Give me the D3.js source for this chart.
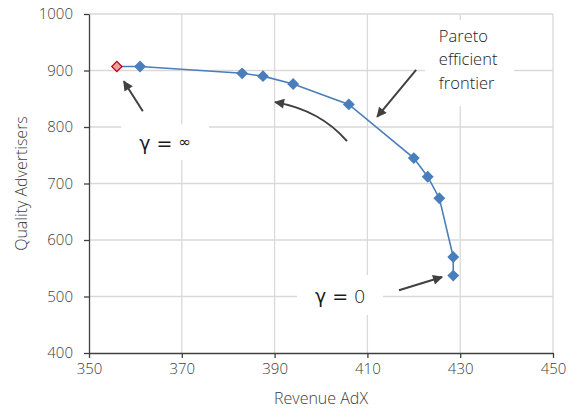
<!DOCTYPE html>
<html>
<head>
<meta charset="utf-8">
<script src="https://cdn.jsdelivr.net/npm/d3@7"></script>
<style>
  body { margin: 0; background: #fff; }
  svg { font-family: "Open Sans", sans-serif; font-weight: 300; }
</style>
</head>
<body>
<div id="chart-area"></div>
<script>
// frontier points, first one is gamma = infinity
let revenue = [356, 361, 383, 387.5, 394, 406, 420, 423, 425.5, 428.5, 428.5];
let quality = [907, 907, 895, 890, 876, 840, 745, 712, 674, 570, 537];
let xTicks = [350, 370, 390, 410, 430, 450];
let yTicks = [400, 500, 600, 700, 800, 900, 1000];

// annotation texts and arrows in data units
let labelRhs = ['∞', '0'];
let labelX = [366.4, 404.1];
let labelY = [759, 488.5];
let paretoLines = ['Pareto', 'efficient', 'frontier'];
let arrows = [
  { from: [361.6, 828], to: [357.5, 881] },
  { from: [405.6, 775], ctrl: [399.8, 830], to: [390.1, 844] },
  { from: [420.5, 901], to: [412.1, 818] },
  { from: [416.8, 511], to: [426.1, 534.5] },
];

let width = 574;
let height = 415;
let padding = { left: 89, top: 14, right: 21, bottom: 62 };

let chart = d3
  .select('#chart-area')
  .append('svg')
  .attr('width', width)
  .attr('height', height);

let x = d3.scaleLinear().domain([350, 450]).range([padding.left, width - padding.right]);
let y = d3.scaleLinear().domain([400, 1000]).range([height - padding.bottom, padding.top]);

//grid
chart
  .append('g')
  .selectAll('line')
  .data(xTicks.slice(1))
  .enter()
  .append('line')
  .attr('x1', (d) => x(d))
  .attr('x2', (d) => x(d))
  .attr('y1', y(1000))
  .attr('y2', y(400))
  .attr('stroke', '#d9d9d9')
  .attr('stroke-width', 1.3);
chart
  .append('g')
  .selectAll('line')
  .data(yTicks.slice(1))
  .enter()
  .append('line')
  .attr('x1', x(350))
  .attr('x2', x(450))
  .attr('y1', (d) => y(d))
  .attr('y2', (d) => y(d))
  .attr('stroke', '#d9d9d9')
  .attr('stroke-width', 1.3);

//axes
let xAxis = chart
  .append('g')
  .attr('transform', `translate(0,${y(400)})`)
  .call(d3.axisBottom(x).tickValues(xTicks).tickFormat(d3.format('d')).tickSize(5).tickSizeOuter(0).tickPadding(5));
let yAxis = chart
  .append('g')
  .attr('transform', `translate(${x(350)},0)`)
  .call(d3.axisLeft(y).tickValues(yTicks).tickFormat(d3.format('d')).tickSize(5).tickSizeOuter(0).tickPadding(11));
[xAxis, yAxis].forEach((a) => {
  a.select('.domain').attr('stroke', '#404040').attr('stroke-width', 1.3);
  a.selectAll('.tick line').attr('stroke', '#404040').attr('stroke-width', 1.3);
  a.selectAll('text')
    .attr('fill', '#404040')
    .style('font-size', '15px')
    .style('font-family', '"Open Sans", sans-serif');
});

//axis titles
chart
  .append('text')
  .attr('x', (x(350) + x(450)) / 2)
  .attr('y', 404)
  .attr('text-anchor', 'middle')
  .attr('fill', '#404040')
  .style('font-size', '16px')
  .text('Revenue AdX');
chart
  .append('text')
  .attr('transform', `translate(27,${(y(400) + y(1000)) / 2}) rotate(-90)`)
  .attr('text-anchor', 'middle')
  .attr('fill', '#404040')
  .style('font-size', '16px')
  .text('Quality Advertisers');

//gamma labels with white boxes (hide grid behind)
let labels = chart.append('g');
labelRhs.forEach((t, i) => {
  let g = labels.append('g');
  let txt = g
    .append('text')
    .attr('x', x(labelX[i]))
    .attr('y', y(labelY[i]))
    .attr('text-anchor', 'middle')
    .attr('fill', '#1a1a1a')
    .style('font-size', '19px')
    .style('font-family', '"DejaVu Sans", sans-serif')
    .style('font-weight', 400);
  txt.append('tspan').text('γ');
  txt.append('tspan').attr('dx', 6).text('=');
  txt
    .append('tspan')
    .attr('dx', 6)
    .style('font-family', i == 0 ? '"DejaVu Sans", sans-serif' : '"Open Sans", sans-serif')
    .style('font-weight', i == 0 ? 400 : 300)
    .style('font-size', i == 0 ? '15px' : '19px')
    .attr('dy', i == 0 ? -3 : 0)
    .text(t);
  let b = txt.node().getBBox();
  g.insert('rect', 'text')
    .attr('x', b.x - 18)
    .attr('y', b.y - 8)
    .attr('width', b.width + 36)
    .attr('height', b.height + 14)
    .attr('fill', '#fff');
});
let pareto = chart.append('g');
let pText = pareto
  .append('text')
  .attr('fill', '#222')
  .style('font-size', '16.5px');
paretoLines.forEach((t, i) => {
  pText
    .append('tspan')
    .attr('x', x(425.4))
    .attr('y', y(950.5) + i * 23.5)
    .text(t);
});
let pb = pText.node().getBBox();
pareto
  .insert('rect', 'text')
  .attr('x', pb.x - 14)
  .attr('y', pb.y - 4)
  .attr('width', pb.width + 30)
  .attr('height', pb.height + 16)
  .attr('fill', '#fff');

//series line
let pts = revenue.map((r, i) => [r, quality[i]]);
chart
  .append('path')
  .datum(pts)
  .attr('fill', 'none')
  .attr('stroke', '#4a7ebb')
  .attr('stroke-width', 1.6)
  .attr('d', d3.line().x((d) => x(d[0])).y((d) => y(d[1])));

//markers
let diamond = d3.symbol().type(d3.symbolSquare).size(52);
chart
  .append('g')
  .selectAll('path')
  .data(pts)
  .enter()
  .append('path')
  .attr('d', diamond)
  .attr('transform', (d) => `translate(${x(d[0])},${y(d[1])}) rotate(45)`)
  .attr('fill', (d, i) => (i == 0 ? '#e6a2a2' : '#4a7ebb'))
  .attr('stroke', (d, i) => (i == 0 ? '#c00000' : '#4a7ebb'))
  .attr('stroke-width', 1.2);

//arrows
chart
  .append('defs')
  .append('marker')
  .attr('id', 'head')
  .attr('viewBox', '0 0 10 10')
  .attr('refX', 9)
  .attr('refY', 5)
  .attr('markerUnits', 'userSpaceOnUse')
  .attr('markerWidth', 12)
  .attr('markerHeight', 10)
  .attr('orient', 'auto')
  .append('path')
  .attr('d', 'M0,0 L10,5 L0,10 z')
  .attr('fill', '#404040');

chart
  .append('g')
  .selectAll('path')
  .data(arrows)
  .enter()
  .append('path')
  .attr('d', (a) => {
    let p = d3.path();
    p.moveTo(x(a.from[0]), y(a.from[1]));
    if (a.ctrl) p.quadraticCurveTo(x(a.ctrl[0]), y(a.ctrl[1]), x(a.to[0]), y(a.to[1]));
    else p.lineTo(x(a.to[0]), y(a.to[1]));
    return p.toString();
  })
  .attr('fill', 'none')
  .attr('stroke', '#404040')
  .attr('stroke-width', 2)
  .attr('marker-end', 'url(#head)');
</script>
</body>
</html>
